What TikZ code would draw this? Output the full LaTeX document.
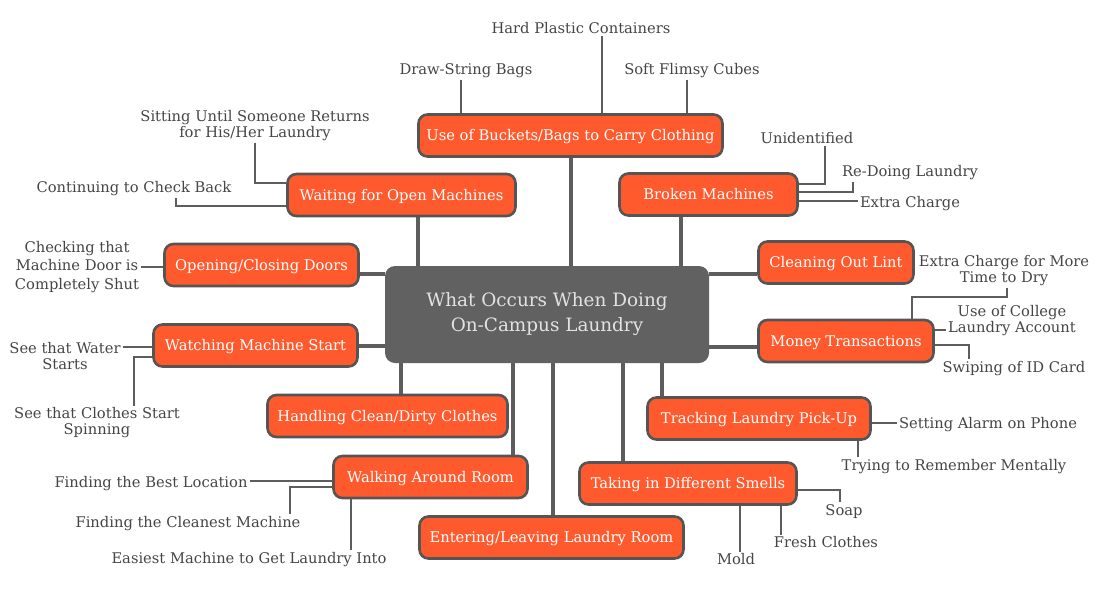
\documentclass[tikz,border=0pt]{standalone}
\usepackage{fontspec}
\setmainfont{DejaVu Serif}
\usepackage{tikz}
\usetikzlibrary{backgrounds}
\definecolor{flame}{HTML}{FF5A2E}
\definecolor{rim}{HTML}{555555}
\definecolor{slate}{HTML}{616161}
\definecolor{mist}{HTML}{E2E2E2}
\definecolor{ink}{HTML}{454545}

\begin{document}
\begin{tikzpicture}[x=1pt,y=-1pt,
  topic/.style={draw=rim,line width=2.6pt,fill=flame,rounded corners=9pt,text=white,
    font=\fontsize{14.7}{16}\selectfont,minimum height=42pt,inner sep=0pt,text depth=0.5pt},
  core/.style={fill=slate,rounded corners=10pt,text=mist,align=center,
    font=\fontsize{18.4}{25}\selectfont,minimum width=324pt,minimum height=97pt},
  leaf/.style={text=ink,align=center,inner sep=2pt,font=\fontsize{14.7}{16}\selectfont,yshift=-1.5pt},
  trunk/.style={draw=rim!95!white,line width=4pt},
  twig/.style={draw=rim!95!white,line width=2pt}]
\useasboundingbox (0,0) rectangle (1100,600);
\node[core] (hub) at (547,314.5) {What Occurs When Doing\\On-Campus Laundry};
\node[topic,minimum width=304pt] (buckets) at (570.5,135.5) {Use of Buckets/Bags to Carry Clothing};
\node[topic,minimum width=228pt] (waiting) at (401.5,195) {Waiting for Open Machines};
\node[topic,minimum width=178pt] (broken) at (708.5,194.5) {Broken Machines};
\node[topic,minimum width=194pt] (doors) at (261.5,265) {Opening/Closing Doors};
\node[topic,minimum width=155pt] (lint) at (836,262.5) {Cleaning Out Lint};
\node[topic,minimum width=175pt] (money) at (846,341) {Money Transactions};
\node[topic,minimum width=204pt] (watching) at (255.5,345.5) {Watching Machine Start};
\node[topic,minimum width=240pt] (handling) at (387.5,416) {Handling Clean/Dirty Clothes};
\node[topic,minimum width=223pt] (tracking) at (759,418.5) {Tracking Laundry Pick-Up};
\node[topic,minimum width=194pt] (walking) at (430.5,477) {Walking Around Room};
\node[topic,minimum width=217pt] (smells) at (688,483.5) {Taking in Different Smells};
\node[topic,minimum width=264pt] (entering) at (551.5,537.5) {Entering/Leaving Laundry Room};

\node[leaf] (hard) at (581,27) {Hard Plastic Containers};
\node[leaf] (bags) at (466,69) {Draw-String Bags};
\node[leaf] (cubes) at (692,69) {Soft Flimsy Cubes};
\node[leaf] (sitting) at (255,124) {Sitting Until Someone Returns\\for His/Her Laundry};
\node[leaf] (checkback) at (134,187) {Continuing to Check Back};
\node[leaf] (unknown) at (807,137) {Unidentified};
\node[leaf] (redo) at (910,171) {Re-Doing Laundry};
\node[leaf] (charge) at (910,202) {Extra Charge};
\node[leaf,font=\fontsize{14.7}{18.5}\selectfont] (shut) at (77,265.5) {Checking that\\Machine Door is\\Completely Shut};
\node[leaf] (drytime) at (1004,269) {Extra Charge for More\\Time to Dry};
\node[leaf] (college) at (1012,319.5) {Use of College\\Laundry Account};
\node[leaf] (swipe) at (1014,367) {Swiping of ID Card};
\node[leaf] (alarm) at (988,423) {Setting Alarm on Phone};
\node[leaf] (mental) at (954,465) {Trying to Remember Mentally};
\node[leaf] (soap) at (844,510) {Soap};
\node[leaf] (fresh) at (826,541) {Fresh Clothes};
\node[leaf] (mold) at (736,558) {Mold};
\node[leaf] (water) at (65,355) {See that Water\\Starts};
\node[leaf] (spin) at (97,421.5) {See that Clothes Start\\Spinning};
\node[leaf] (bestloc) at (151,482) {Finding the Best Location};
\node[leaf] (cleanest) at (188,522) {Finding the Cleanest Machine};
\node[leaf] (easiest) at (249,558) {Easiest Machine to Get Laundry Into};

\begin{scope}[on background layer]
\draw[trunk] (hub.north -| 418,0) -- (waiting.south -| 418,0);
\draw[trunk] (hub.north -| 571,0) -- (buckets.south -| 571,0);
\draw[trunk] (hub.north -| 681,0) -- (broken.south -| 681,0);
\draw[trunk] (hub.west |- 0,274) -- (doors.east |- 0,274);
\draw[trunk] (hub.west |- 0,346) -- (watching.east |- 0,346);
\draw[trunk] (hub.east |- 0,274) -- (lint.west |- 0,274);
\draw[trunk] (hub.east |- 0,347) -- (money.west |- 0,347);
\draw[trunk] (hub.south -| 401,0) -- (handling.north -| 401,0);
\draw[trunk] (hub.south -| 513,0) -- (walking.north -| 513,0);
\draw[trunk] (hub.south -| 553,0) -- (entering.north -| 553,0);
\draw[trunk] (hub.south -| 623,0) -- (smells.north -| 623,0);
\draw[trunk] (hub.south -| 662,0) -- (tracking.north -| 662,0);

\draw[twig] (hard.south -| 602,0) -- (buckets.north -| 602,0);
\draw[twig] (bags.south -| 461,0) -- (buckets.north -| 461,0);
\draw[twig] (cubes.south -| 687,0) -- (buckets.north -| 687,0);
\draw[twig] (sitting.south) |- (waiting.west |- 0,183);
\draw[twig] (checkback.south -| 176,0) |- (waiting.west |- 0,206);
\draw[twig] (unknown.south -| 825,0) |- (broken.east |- 0,184);
\draw[twig] (redo.south -| 853,0) |- (broken.east |- 0,192);
\draw[twig] (broken.east |- 0,201) -- (charge.west |- 0,201);
\draw[twig] (shut.east |- 0,267) -- (doors.west |- 0,267);
\draw[twig] (drytime.south -| 1007,0) -- (1007,297) -| (money.north -| 912,0);
\draw[twig] (money.east |- 0,330) -- (college.west |- 0,330);
\draw[twig] (money.east |- 0,345) -| (swipe.north -| 969,0);
\draw[twig] (tracking.east |- 0,423) -- (alarm.west |- 0,423);
\draw[twig] (tracking.south -| 858,0) -- (mental.north -| 858,0);
\draw[twig] (smells.east |- 0,490) -| (soap.north -| 840,0);
\draw[twig] (smells.south -| 781,0) -- (fresh.north -| 781,0);
\draw[twig] (smells.south -| 740,0) -- (mold.north -| 740,0);
\draw[twig] (water.east |- 0,347) -- (watching.west |- 0,347);
\draw[twig] (watching.west |- 0,357) -| (spin.north -| 134,0);
\draw[twig] (bestloc.east |- 0,481) -- (walking.west |- 0,481);
\draw[twig] (walking.west |- 0,487) -| (cleanest.north -| 290,0);
\draw[twig] (walking.south -| 351,0) -- (easiest.north -| 351,0);
\end{scope}
\end{tikzpicture}
\end{document}
